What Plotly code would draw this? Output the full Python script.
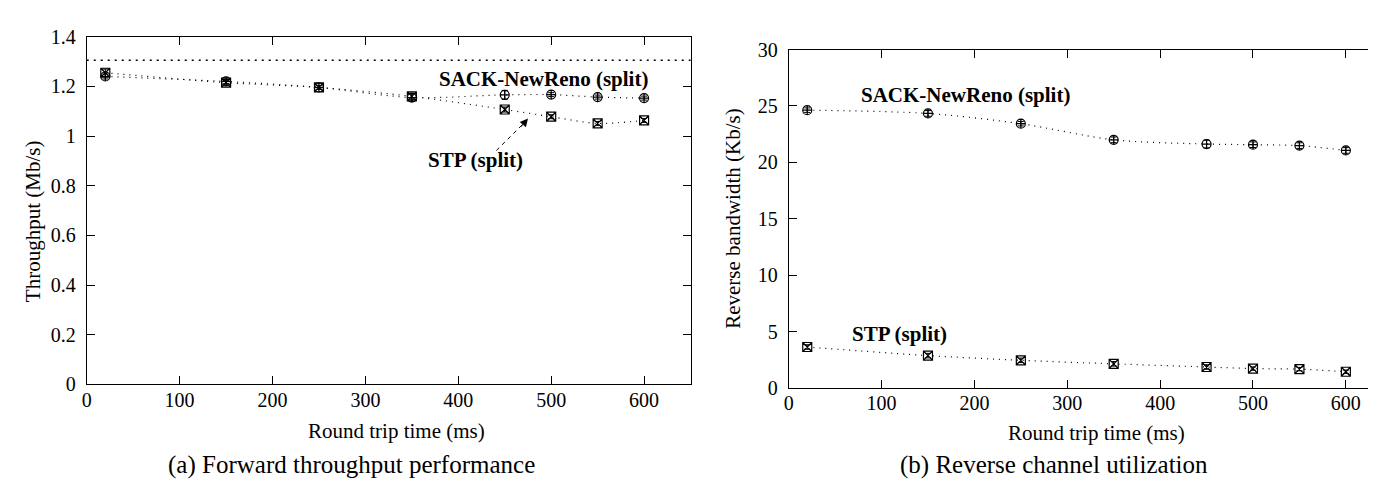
import plotly.graph_objects as go

W, H = 1376, 479

# ---------------- data ----------------
RTT = [20, 150, 250, 350, 450, 500, 550, 600]

# (a) forward throughput (Mb/s)
A_SACK = [1.240, 1.220, 1.196, 1.155, 1.166, 1.167, 1.157, 1.153]
A_SACK_ERR = [0.010, 0.008, 0.008, 0.015, 0.018, 0.008, 0.008, 0.008]
A_STP = [1.255, 1.215, 1.196, 1.160, 1.107, 1.078, 1.051, 1.063]
A_STP_ERR = [0.015, 0.010, 0.008, 0.012, 0.010, 0.008, 0.008, 0.008]
A_CAPACITY = 1.305

# (b) reverse bandwidth (Kb/s)
B_SACK = [24.63, 24.34, 23.43, 22.00, 21.63, 21.57, 21.49, 21.06]
B_SACK_ERR = [0.20, 0.25, 0.20, 0.25, 0.35, 0.25, 0.25, 0.25]
B_STP = [3.65, 2.89, 2.47, 2.16, 1.88, 1.74, 1.69, 1.46]
B_STP_ERR = [0.20, 0.20, 0.20, 0.20, 0.20, 0.15, 0.15, 0.15]

X_TICKS = [0, 100, 200, 300, 400, 500, 600]
A_Y_TICKS = [0, 0.2, 0.4, 0.6, 0.8, 1.0, 1.2, 1.4]
A_Y_LABELS = ["0", "0.2", "0.4", "0.6", "0.8", "1", "1.2", "1.4"]
B_Y_TICKS = [0, 5, 10, 15, 20, 25, 30]

SERIES_NAMES = ["SACK-NewReno (split)", "STP (split)"]

# label anchor positions (data units)
A_LABELS = [(492, 1.228), (418, 0.902)]
B_LABELS = [(190, 25.94), (119, 4.83)]
A_ARROW_TAIL = (441, 0.942)
A_ARROW_HEAD = (475, 1.071)

FONT = "Liberation Serif"

fig = go.Figure()

def px_x(p):
    return p / W

def px_y(p):
    return (H - p) / H

# domains measured in pixels
A_XDOM = [px_x(74), px_x(680)]
A_YDOM = [px_y(383), px_y(18.6)]
B_XDOM = [px_x(778.5), px_x(1375)]
B_YDOM = [px_y(387), px_y(32)]

line_style = dict(color="black", width=1.2, dash="1px,5px", shape="spline", smoothing=0.8)

def add_series(x, y, err, symbol, xa, ya):
    fig.add_trace(go.Scatter(
        x=x, y=y, mode="lines+markers",
        line=line_style,
        marker=dict(symbol=symbol, size=9, color="black",
                    line=dict(color="black", width=1.2)),
        error_y=dict(type="data", array=err, visible=True, color="black",
                     thickness=1, width=3),
        xaxis=xa, yaxis=ya, showlegend=False,
    ))

add_series(RTT, A_SACK, A_SACK_ERR, "circle-cross-open", "x", "y")
add_series(RTT, A_STP, A_STP_ERR, "square-x-open", "x", "y")
add_series(RTT, B_SACK, B_SACK_ERR, "circle-cross-open", "x2", "y2")
add_series(RTT, B_STP, B_STP_ERR, "square-x-open", "x2", "y2")

# capacity reference line in panel (a)
fig.add_shape(type="line", xref="x domain", yref="y", x0=0, x1=1,
              y0=A_CAPACITY, y1=A_CAPACITY,
              line=dict(color="black", width=1.5, dash="2px,5px"))

axis_common = dict(
    showline=True, linecolor="black", linewidth=1, mirror="ticks",
    ticks="inside", ticklen=8, tickwidth=1, tickcolor="black",
    showgrid=False, zeroline=False,
    tickfont=dict(family=FONT, size=20, color="black"),
)

fig.update_layout(
    width=W, height=H, autosize=False,
    margin=dict(l=0, r=0, t=0, b=0),
    paper_bgcolor="white", plot_bgcolor="white",
    xaxis=dict(domain=A_XDOM, range=[0, 650], tickvals=X_TICKS, anchor="y",
               ticklabelstandoff=-2, **axis_common),
    yaxis=dict(domain=A_YDOM, range=[0, 1.4], tickvals=A_Y_TICKS, ticktext=A_Y_LABELS,
               anchor="x", ticklabelstandoff=6, **axis_common),
    xaxis2=dict(domain=B_XDOM, range=[0, 640], tickvals=X_TICKS, anchor="y2",
                ticklabelstandoff=-3, **axis_common),
    yaxis2=dict(domain=B_YDOM, range=[0, 30], tickvals=B_Y_TICKS, anchor="x2",
                ticklabelstandoff=6, **axis_common),
)

ann = []
bold = dict(family=FONT, size=21, color="black")
for (lx, ly), name in zip(A_LABELS, SERIES_NAMES):
    ann.append(dict(x=lx, y=ly, xref="x", yref="y", text="<b>%s</b>" % name,
                    showarrow=False, font=bold))
for (lx, ly), name in zip(B_LABELS, SERIES_NAMES):
    ann.append(dict(x=lx, y=ly, xref="x2", yref="y2", text="<b>%s</b>" % name,
                    showarrow=False, font=bold))

# dashed arrow shaft + arrow head
fig.add_shape(type="line", xref="x", yref="y",
              x0=A_ARROW_TAIL[0], y0=A_ARROW_TAIL[1],
              x1=A_ARROW_HEAD[0] - 6, y1=A_ARROW_HEAD[1] - 0.025,
              line=dict(color="black", width=1, dash="4px,4px"))
ann.append(dict(x=A_ARROW_HEAD[0], y=A_ARROW_HEAD[1], xref="x", yref="y",
                ax=A_ARROW_HEAD[0] - 9, ay=A_ARROW_HEAD[1] - 0.04,
                axref="x", ayref="y", text="", showarrow=True,
                arrowhead=2, arrowsize=1.6, arrowwidth=1, arrowcolor="black"))

title_font = dict(family=FONT, size=21, color="black")
cap_font = dict(family=FONT, size=25, color="black")

ann += [
    dict(x=px_x(385), y=px_y(432), xref="paper", yref="paper", text="Round trip time (ms)",
         showarrow=False, font=title_font, xanchor="center", yanchor="middle"),
    dict(x=px_x(1087), y=px_y(434), xref="paper", yref="paper", text="Round trip time (ms)",
         showarrow=False, font=title_font, xanchor="center", yanchor="middle"),
    dict(x=px_x(340), y=px_y(467), xref="paper", yref="paper",
         text="(a) Forward throughput performance",
         showarrow=False, font=cap_font, xanchor="center", yanchor="middle"),
    dict(x=px_x(1045), y=px_y(467), xref="paper", yref="paper",
         text="(b) Reverse channel utilization",
         showarrow=False, font=cap_font, xanchor="center", yanchor="middle"),
    dict(x=px_x(20), y=px_y(212), xref="paper", yref="paper", text="Throughput (Mb/s)",
         showarrow=False, font=title_font, textangle=-90, xanchor="center", yanchor="middle"),
    dict(x=px_x(723), y=px_y(209), xref="paper", yref="paper", text="Reverse bandwidth (Kb/s)",
         showarrow=False, font=title_font, textangle=-90, xanchor="center", yanchor="middle"),
]
fig.update_layout(annotations=ann)

fig.write_html("out.html")
